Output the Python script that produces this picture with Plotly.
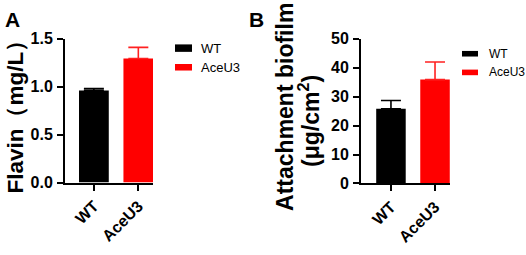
import plotly.graph_objects as go

categories = ["WT", "AceU3"]
flavin = [0.96, 1.295]
flavin_err = [0.02, 0.115]
biofilm = [25.8, 35.9]
biofilm_err = [2.9, 6.1]
bar_colors = ["#000000", "#ff0000"]
err_colors = ["#000000", "#ff2020"]
flavin_ticks = [0.0, 0.5, 1.0, 1.5]
biofilm_ticks = [0, 10, 20, 30, 40, 50]

W, H = 526, 255
FONT = "Liberation Sans, Arial, sans-serif"

fig = go.Figure()
for i, c in enumerate(categories):
    fig.add_trace(go.Bar(x=[c], y=[flavin[i]], width=0.67, marker_color=bar_colors[i],
                         marker_line_width=0, showlegend=False, xaxis="x", yaxis="y",
                         error_y=dict(type="data", array=[flavin_err[i]], arrayminus=[0],
                                      symmetric=False, color=err_colors[i], thickness=1.6, width=10)))
for i, c in enumerate(categories):
    fig.add_trace(go.Bar(x=[c], y=[biofilm[i]], width=0.67, marker_color=bar_colors[i],
                         marker_line_width=0, showlegend=False, xaxis="x2", yaxis="y2",
                         error_y=dict(type="data", array=[biofilm_err[i]], arrayminus=[0],
                                      symmetric=False, color=err_colors[i], thickness=1.6, width=10)))

axis_common = dict(showline=True, linecolor="black", linewidth=2, ticks="outside",
                   ticklen=6, tickwidth=2, tickcolor="black", showgrid=False, zeroline=False,
                   tickfont=dict(family=FONT, size=16, color="black", weight="bold"))

fig.update_layout(
    width=W, height=H, margin=dict(l=0, r=0, t=0, b=0),
    plot_bgcolor="white", paper_bgcolor="white", barmode="overlay",
    xaxis=dict(domain=[65/W, 153/W], range=[-0.65, 1.33], anchor="y", tickangle=-45,
               **axis_common),
    yaxis=dict(domain=[1-187/H, 1-33/H], range=[0, 1.5], anchor="x", tickvals=flavin_ticks,
               tickformat=".1f", ticklabelstandoff=1, **axis_common),
    xaxis2=dict(domain=[361/W, 450/W], range=[-0.68, 1.34], anchor="y2", tickangle=-45,
                **axis_common),
    yaxis2=dict(domain=[1-188/H, 1-33/H], range=[0, 50], anchor="x2", tickvals=biofilm_ticks,
                ticklabelstandoff=1, **axis_common),
)

anns = [
    dict(text="A", x=3/W, y=1-12/H, xanchor="left", yanchor="middle",
         font=dict(family=FONT, size=21, color="black", weight="bold")),
    dict(text="B", x=247/W, y=1-12/H, xanchor="left", yanchor="middle",
         font=dict(family=FONT, size=21, color="black", weight="bold")),
    dict(text="Flavin（mg/L）", x=16/W, y=1-111/H, textangle=-90, xanchor="center", yanchor="middle",
         font=dict(family=FONT, size=22.5, color="black", weight="bold")),
    dict(text="Attachment biofilm", x=285/W, y=1-106/H, textangle=-90, xanchor="center", yanchor="middle",
         font=dict(family=FONT, size=23, color="black", weight="bold")),
    dict(text="(μg/cm<sup>2</sup>)", x=309/W, y=1-121/H, textangle=-90, xanchor="center", yanchor="middle",
         font=dict(family=FONT, size=23, color="black", weight="bold")),
]
# legends
shapes = []
legends = [((175, 192), [(39, 47), (60, 67)], 199, 13), ((462, 478), [(46, 52), (66, 72)], 487, 12)]
for (x0, x1), rows, tx, fs in legends:
    for i, (y0, y1) in enumerate(rows):
        shapes.append(dict(type="rect", xref="paper", yref="paper", x0=x0/W, x1=x1/W,
                           y0=1-y1/H, y1=1-y0/H, fillcolor=bar_colors[i], line_width=0))
        anns.append(dict(text=categories[i], x=tx/W, y=1-((y0+y1)/2)/H, xanchor="left",
                         yanchor="middle", font=dict(family=FONT, size=fs, color="black")))
for a in anns:
    a.update(xref="paper", yref="paper", showarrow=False)
fig.update_layout(annotations=anns, shapes=shapes)

fig.write_html("out.html", config={"displayModeBar": False},
               post_script="document.body.style.margin='0';document.body.style.overflow='hidden';")
